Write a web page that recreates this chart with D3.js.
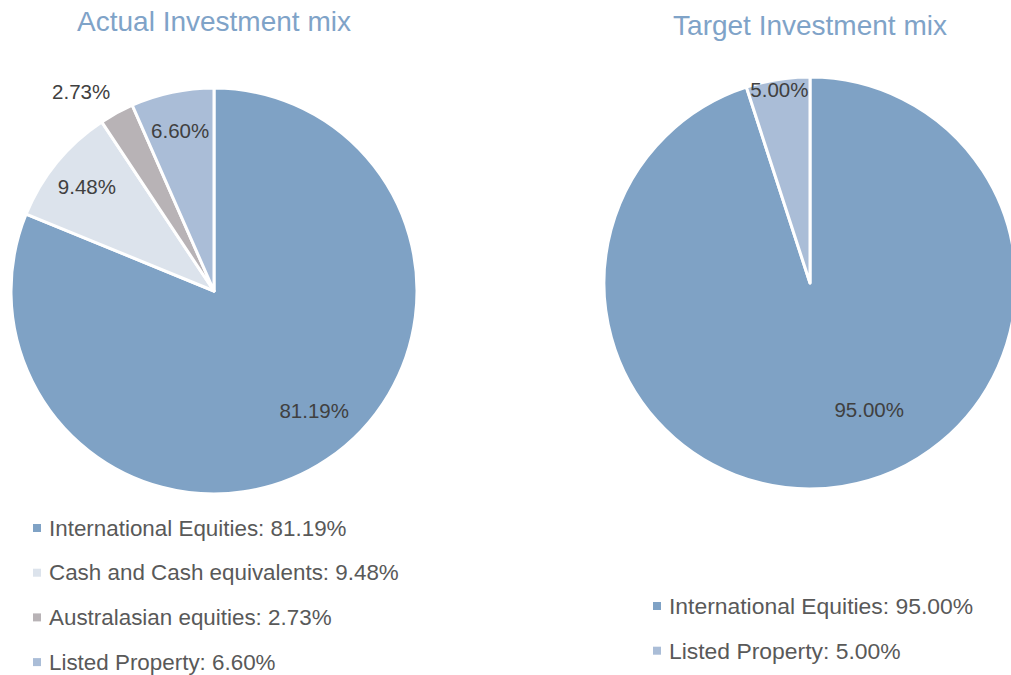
<!DOCTYPE html>
<html>
<head>
<meta charset="utf-8">
<script src="https://cdn.jsdelivr.net/npm/d3@7"></script>
<style>
    body { margin: 0; background: #ffffff; }
    text { font-family: "Liberation Sans", Arial, sans-serif; }
</style>
</head>
<body>
<div id="canvas"></div>
<script>
"use strict"

let svgWidth = 1011
let svgHeight = 675

// chart data
let actualCategories = ["International Equities", "Cash and Cash equivalents", "Australasian equities", "Listed Property"]
let actualValues = [81.19, 9.48, 2.73, 6.60]
let targetCategories = ["International Equities", "Listed Property"]
let targetValues = [95.00, 5.00]

let colorScale = d3.scaleOrdinal()
    .domain(["International Equities", "Cash and Cash equivalents", "Australasian equities", "Listed Property"])
    .range(["#7fa2c5", "#dce3ec", "#b8b3b6", "#aabdd7"])

let svg = d3.select("#canvas")
    .append("svg")
    .attr("width", svgWidth)
    .attr("height", svgHeight)

function buildData(categories, values) {
    return categories.map(function (c, i) {
        return { category: c, value: values[i] }
    })
}

/* draws one pie with its title and legend */
function drawPie(data, opts) {
    let g = svg.append("g")
        .attr("transform", `translate(${opts.cx},${opts.cy})`)

    let pie = d3.pie()
        .sort(null)
        .value(function (d) { return d.value })

    let arc = d3.arc()
        .innerRadius(0)
        .outerRadius(opts.r)

    let slices = pie(data)

    g.selectAll("path.slice")
        .data(slices)
        .join("path")
        .classed("slice", true)
        .attr("d", arc)
        .attr("fill", function (d) { return colorScale(d.data.category) })
        .attr("stroke", "#ffffff")
        .attr("stroke-width", 3)
        .attr("stroke-linejoin", "round")

    g.selectAll("text.pct")
        .data(slices)
        .join("text")
        .classed("pct", true)
        .attr("transform", function (d) {
            let share = d.data.value / 100
            let a = (d.startAngle + d.endAngle) / 2
            let k = opts.smallK
            if (share < 0.03) {
                k = 1.18
                a -= 5 * Math.PI / 180
            } else if (share > 0.5) {
                k = opts.bigK
                a += opts.bigShift * Math.PI / 180
            }
            let x = Math.sin(a) * opts.r * k
            let y = -Math.cos(a) * opts.r * k
            return `translate(${x},${y})`
        })
        .attr("text-anchor", "middle")
        .attr("dominant-baseline", "central")
        .attr("font-size", 20.5)
        .attr("fill", "#404040")
        .text(function (d) { return d.data.value.toFixed(2) + "%" })

    svg.append("text")
        .attr("x", opts.cx)
        .attr("y", opts.titleY)
        .attr("text-anchor", "middle")
        .attr("font-size", 28)
        .attr("fill", "#7fa3c8")
        .text(opts.title)

    let legend = svg.append("g")
        .attr("transform", `translate(${opts.legendX},${opts.legendY})`)

    let rows = legend.selectAll("g.row")
        .data(data)
        .join("g")
        .classed("row", true)
        .attr("transform", function (d, i) { return `translate(0,${i * opts.legendStep})` })

    rows.append("rect")
        .attr("x", 0)
        .attr("y", -4)
        .attr("width", 8)
        .attr("height", 8)
        .attr("fill", function (d) { return colorScale(d.category) })

    rows.append("text")
        .attr("x", 16)
        .attr("y", 0)
        .attr("dominant-baseline", "central")
        .attr("font-size", opts.legendFont)
        .attr("fill", "#595959")
        .text(function (d) { return d.category + ": " + d.value.toFixed(2) + "%" })
}

drawPie(buildData(actualCategories, actualValues), {
    cx: 214, cy: 291, r: 203, smallK: 0.81, bigK: 0.77, bigShift: -6,
    title: "Actual Investment mix", titleY: 31,
    legendX: 33, legendY: 528, legendStep: 44.7, legendFont: 22.4
})

drawPie(buildData(targetCategories, targetValues), {
    cx: 810, cy: 283, r: 206, smallK: 0.95, bigK: 0.68, bigShift: -16,
    title: "Target Investment mix", titleY: 35,
    legendX: 653, legendY: 606, legendStep: 44.7, legendFont: 22.9
})
</script>
</body>
</html>
